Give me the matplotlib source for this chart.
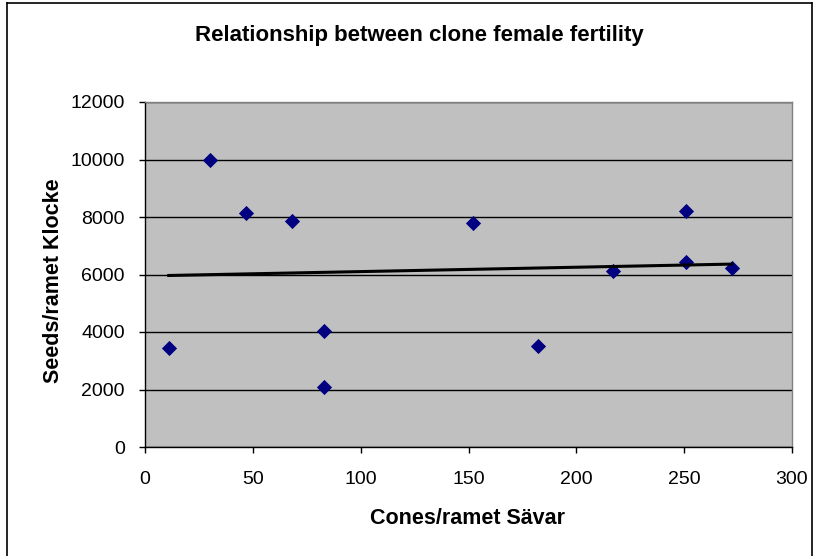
import numpy as np
import matplotlib
matplotlib.use("Agg")
import matplotlib.pyplot as plt
from matplotlib.lines import Line2D

# Clone data: cones per ramet (Sävar) vs seeds per ramet (Klocke)
cones_savar = [11, 30, 47, 68, 83, 83, 152, 182, 217, 251, 251, 272]
seeds_klocke = [3450, 10000, 8150, 7850, 4040, 2080, 7790, 3500, 6120, 8220, 6450, 6240]

x_ticks = [0, 50, 100, 150, 200, 250, 300]
y_ticks = [0, 2000, 4000, 6000, 8000, 10000, 12000]

plt.rcParams['font.family'] = ['Liberation Sans', 'DejaVu Sans']

W, H = 817, 556
fig = plt.figure(figsize=(W / 100, H / 100), dpi=100)
fig.patch.set_facecolor('white')

# Chart-area frame (left, top, right edges)
for (x0, y0, x1, y1) in [(7, 0, 7, 553), (7, 553, 812, 553), (812, 553, 812, 0)]:
    fig.add_artist(Line2D([x0 / W, x1 / W], [y0 / H, y1 / H], color='black', lw=1.2,
                          transform=fig.transFigure))

ax = fig.add_axes([145 / W, 109 / H, (792 - 145) / W, (454 - 109) / H])
ax.set_facecolor('#c0c0c0')
ax.set_xlim(0, 300)
ax.set_ylim(0, 12000)
ax.set_xticks(x_ticks)
ax.set_yticks(y_ticks)
ax.set_xticklabels([str(v) for v in x_ticks])
ax.set_yticklabels([str(v) for v in y_ticks])
ax.tick_params(direction='out', length=4.5, width=1, color='black', labelsize=14)
ax.tick_params(axis='x', pad=13)
ax.tick_params(axis='y', pad=10)

ax.yaxis.grid(True, color='black', lw=1)
ax.set_axisbelow(True)
for side in ['left', 'bottom']:
    ax.spines[side].set_color('black')
    ax.spines[side].set_linewidth(1)
for side in ['top', 'right']:
    ax.spines[side].set_color('#808080')
    ax.spines[side].set_linewidth(1)

ax.scatter(cones_savar, seeds_klocke, marker='D', s=60, color='#000080', zorder=3,
           linewidths=0)

# Linear trend line across the data range
slope, intercept = np.polyfit(cones_savar, seeds_klocke, 1)
xs = np.array([min(cones_savar), max(cones_savar)])
ax.plot(xs, slope * xs + intercept, color='black', lw=2.2, zorder=4)

fig.text(419 / W, 1 - 35 / H, 'Relationship between clone female fertility',
         ha='center', va='center', fontsize=16, fontweight='bold')
fig.text(467 / W, 1 - 518 / H, 'Cones/ramet Sävar', ha='center', va='center',
         fontsize=15.5, fontweight='bold')
fig.text(54 / W, 1 - 281 / H, 'Seeds/ramet Klocke', ha='center', va='center',
         fontsize=15.5, fontweight='bold', rotation=90)

fig.savefig('out.png', dpi=100)
